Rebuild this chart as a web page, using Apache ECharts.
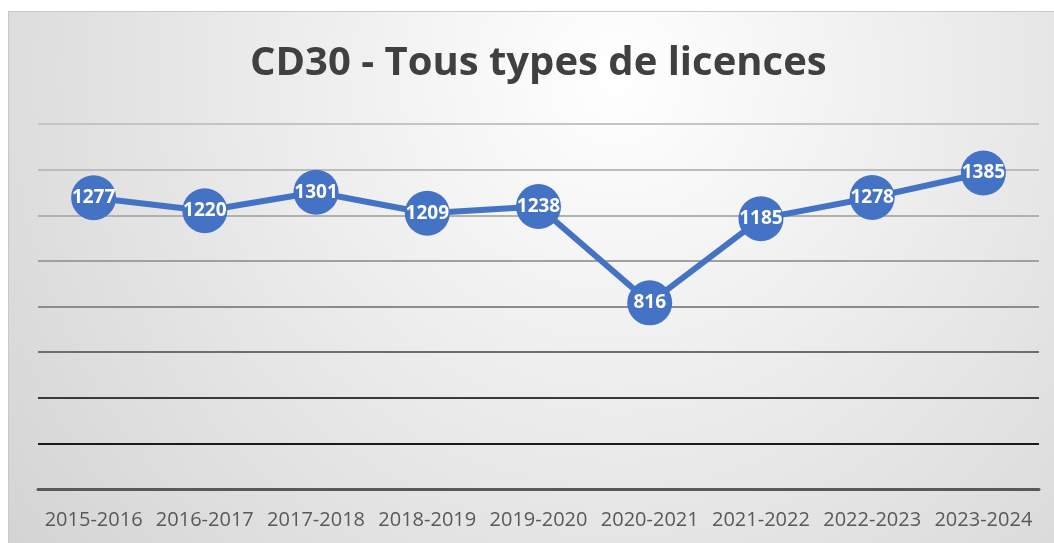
<!DOCTYPE html>
<html lang="fr">
<head>
    <meta charset="UTF-8">
    <title>CD30 - Tous types de licences</title>
    <style>
        html, body {margin: 0; padding: 0; background: #ffffff;}
        #chart {
            position: absolute;
            left: 8px; top: 11px;
            width: 1046px; height: 532px;
            border-left: 1px solid #c8c8c8;
            border-top: 1px solid #c8c8c8;
        }
    </style>
</head>
<body>
    <div id="chart"></div>

    <script src="https://cdn.jsdelivr.net/npm/echarts@6/dist/echarts.min.js"></script>
    <script>
// saisons et nombre de licences
const saisons = ['2015-2016', '2016-2017', '2017-2018', '2018-2019', '2019-2020',
                 '2020-2021', '2021-2022', '2022-2023', '2023-2024'];
const licences = [1277, 1220, 1301, 1209, 1238, 816, 1185, 1278, 1385];

// lignes de quadrillage, du bas vers le haut (0 -> 1600)
const couleursGrille = ['#595959', '#1a1a1a', '#3a3a3a', '#6e6e6e', '#8c8c8c',
                        '#a0a0a0', '#b0b0b0', '#bcbcbc', '#c4c4c4'];

const chart = echarts.init(document.getElementById('chart'));

chart.setOption({
    backgroundColor: {
        type: 'radial', x: 0.58, y: 0.12, r: 1.5,
        colorStops: [
            {offset: 0, color: '#ffffff'},
            {offset: 1, color: '#d2d2d2'}
        ]
    },
    title: {
        text: 'CD30 - Tous types de licences',
        left: 236,
        top: 27,
        textStyle: {fontFamily: 'Open Sans', fontSize: 40, fontWeight: 'bold', color: '#404040'}
    },
    grid: {left: 29, right: 16, top: 112, bottom: 55},
    xAxis: {
        type: 'category',
        data: saisons,
        axisLine: {lineStyle: {color: '#595959', width: 3}},
        axisTick: {show: false},
        axisLabel: {interval: 0, fontFamily: 'Open Sans', fontSize: 20, color: '#595959', margin: 21}
    },
    yAxis: {
        type: 'value',
        min: 0, max: 1600, interval: 200,
        axisLabel: {show: false},
        axisLine: {show: false},
        axisTick: {show: false},
        splitLine: {lineStyle: {color: couleursGrille, width: 2}}
    },
    series: [{
        type: 'line',
        data: licences,
        symbol: 'circle',
        symbolSize: 45,
        itemStyle: {color: '#4472C4'},
        lineStyle: {color: '#4472C4', width: 6},
        label: {
            show: true,
            position: 'inside',
            color: '#ffffff',
            fontFamily: 'Open Sans',
            fontWeight: 'bold',
            fontSize: 19
        }
    }]
});
    </script>
</body>
</html>
